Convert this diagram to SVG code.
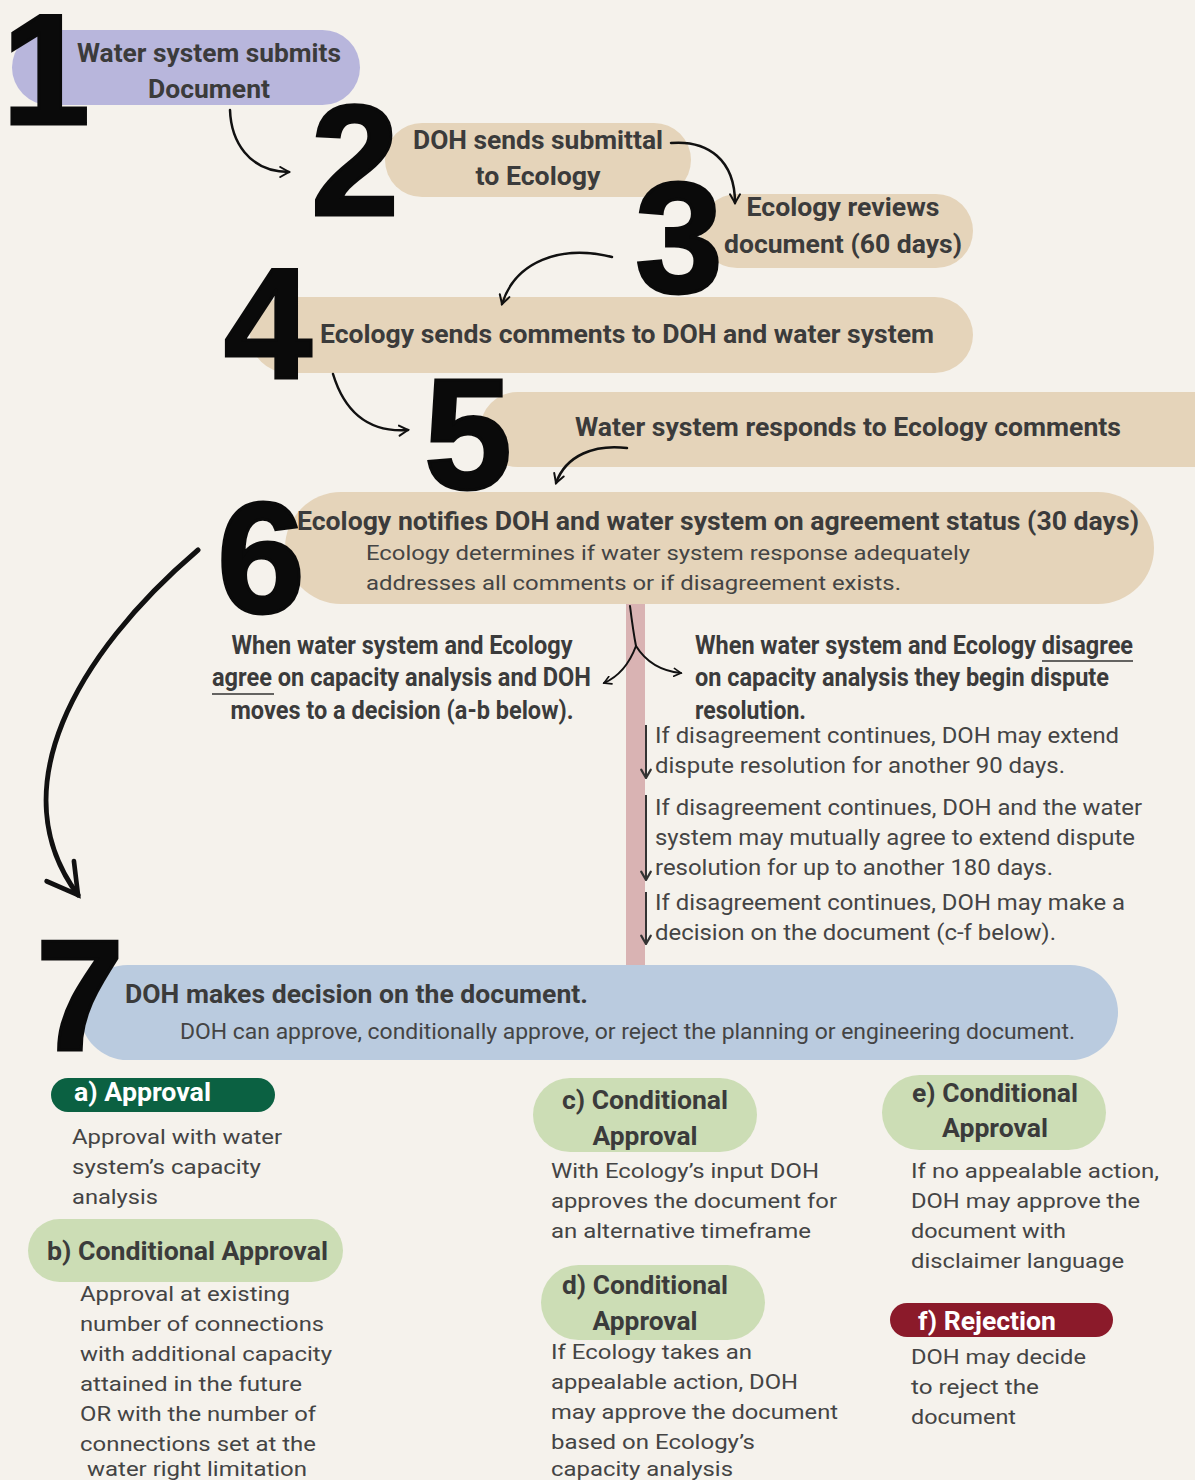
<svg xmlns="http://www.w3.org/2000/svg" width="1195" height="1480" viewBox="0 0 1195 1480">
<style>
.bg{fill:#F5F2EC}
.tan{fill:#E5D4BA}
.num{font-family:"Liberation Sans",Arial,sans-serif;font-weight:bold;font-size:158px;fill:#0a0a0a;stroke:#0a0a0a;stroke-width:3;text-anchor:middle}
.h{font-family:Roboto,"Liberation Sans",sans-serif;font-weight:bold;font-size:26px;fill:#3b3b3b}
.hc{text-anchor:middle}
.s{font-family:Roboto,"Liberation Sans",sans-serif;font-size:21px;fill:#444}
.d{font-family:Roboto,"Liberation Sans",sans-serif;font-size:22px;fill:#444}
.w{fill:#fff}
.con{fill:none;stroke:#111;stroke-width:2.5;stroke-linecap:round}
.thin{fill:none;stroke:#333;stroke-width:2}
.ul{stroke:#333;stroke-width:1.5}
</style>
<defs>
<marker id="ah" viewBox="0 0 10 10" refX="8" refY="5" markerWidth="5" markerHeight="5" orient="auto"><path d="M1,1 L8,5 L1,9" fill="none" stroke="#111" stroke-width="1.6" stroke-linecap="round"/></marker>
<marker id="ahb" viewBox="0 0 10 10" refX="8" refY="5" markerWidth="8.5" markerHeight="8.5" orient="auto"><path d="M1,1 L8,5 L1,9" fill="none" stroke="#111" stroke-width="1.1" stroke-linecap="round"/></marker>
<marker id="ahs" viewBox="0 0 10 10" refX="5" refY="9" markerWidth="6" markerHeight="6" orient="0"><path d="M1,2 L5,9 L9,2" fill="none" stroke="#333" stroke-width="1.8" stroke-linecap="round"/></marker>
</defs>
<rect class="bg" x="0" y="0" width="1195" height="1480"/>

<rect x="626" y="600" width="19" height="368" fill="#D9B3B3"/>

<g id="node1">
<rect x="12" y="30" width="348" height="75" rx="37.5" fill="#B8B6DC"/>
<text class="h hc" x="209" y="62" textLength="264" lengthAdjust="spacingAndGlyphs">Water system submits</text>
<text class="h hc" x="209" y="98" textLength="122" lengthAdjust="spacingAndGlyphs">Document</text>
<text class="num" x="46" y="124">1</text>
</g>

<g id="node2">
<rect x="385" y="123" width="306" height="74" rx="37" class="tan"/>
<text class="h hc" x="538" y="149" textLength="250" lengthAdjust="spacingAndGlyphs">DOH sends submittal</text>
<text class="h hc" x="538" y="185" textLength="125" lengthAdjust="spacingAndGlyphs">to Ecology</text>
<text class="num" x="355" y="215">2</text>
</g>

<g id="node3">
<rect x="700" y="194" width="273" height="74" rx="37" class="tan"/>
<text class="h hc" x="843" y="216" textLength="193" lengthAdjust="spacingAndGlyphs">Ecology reviews</text>
<text class="h hc" x="843" y="253" textLength="238" lengthAdjust="spacingAndGlyphs">document (60 days)</text>
<text class="num" x="679" y="292">3</text>
</g>

<g id="node4">
<rect x="250" y="297" width="723" height="76" rx="38" class="tan"/>
<text class="h" x="320" y="343" textLength="614" lengthAdjust="spacingAndGlyphs">Ecology sends comments to DOH and water system</text>
<text class="num" x="268" y="378">4</text>
</g>

<g id="node5">
<rect x="480" y="392" width="760" height="75" rx="37.5" class="tan"/>
<text class="h" x="575" y="436" textLength="546" lengthAdjust="spacingAndGlyphs">Water system responds to Ecology comments</text>
<text class="num" x="468" y="488">5</text>
</g>

<g id="node6">
<rect x="285" y="492" width="869" height="112" rx="56" class="tan"/>
<text class="h" x="297" y="530" textLength="842" lengthAdjust="spacingAndGlyphs">Ecology notifies DOH and water system on agreement status (30 days)</text>
<text class="s" x="366" y="560" textLength="604" lengthAdjust="spacingAndGlyphs">Ecology determines if water system response adequately</text>
<text class="s" x="366" y="590" textLength="535" lengthAdjust="spacingAndGlyphs">addresses all comments or if disagreement exists.</text>
<text class="num" x="261" y="612">6</text>
</g>

<g id="agree">
<text class="h hc" x="402" y="654" font-size="23" textLength="341" lengthAdjust="spacingAndGlyphs">When water system and Ecology</text>
<text class="h" x="212" y="686" font-size="23" textLength="379" lengthAdjust="spacingAndGlyphs">agree on capacity analysis and DOH</text>
<line class="ul" x1="212" y1="694" x2="274" y2="694"/>
<text class="h hc" x="402" y="719" font-size="23" textLength="343" lengthAdjust="spacingAndGlyphs">moves to a decision (a-b below).</text>
</g>

<g id="disagree">
<text class="h" x="695" y="654" font-size="23" textLength="438" lengthAdjust="spacingAndGlyphs">When water system and Ecology disagree</text>
<line class="ul" x1="1042" y1="661" x2="1133" y2="661"/>
<text class="h" x="695" y="686" font-size="23" textLength="414" lengthAdjust="spacingAndGlyphs">on capacity analysis they begin dispute</text>
<text class="h" x="695" y="719" font-size="23" textLength="111" lengthAdjust="spacingAndGlyphs">resolution.</text>
</g>

<g id="dispute1">
<text class="d" x="655" y="743" textLength="464" lengthAdjust="spacingAndGlyphs">If disagreement continues, DOH may extend</text>
<text class="d" x="655" y="773" textLength="410" lengthAdjust="spacingAndGlyphs">dispute resolution for another 90 days.</text>
</g>
<g id="dispute2">
<text class="d" x="655" y="815" textLength="487" lengthAdjust="spacingAndGlyphs">If disagreement continues, DOH and the water</text>
<text class="d" x="655" y="845" textLength="480" lengthAdjust="spacingAndGlyphs">system may mutually agree to extend dispute</text>
<text class="d" x="655" y="875" textLength="398" lengthAdjust="spacingAndGlyphs">resolution for up to another 180 days.</text>
</g>
<g id="dispute3">
<text class="d" x="655" y="910" textLength="470" lengthAdjust="spacingAndGlyphs">If disagreement continues, DOH may make a</text>
<text class="d" x="655" y="940" textLength="401" lengthAdjust="spacingAndGlyphs">decision on the document (c-f below).</text>
</g>

<g id="node7">
<rect x="80" y="965" width="1038" height="95" rx="47.5" fill="#BACBDF"/>
<text class="h" x="125" y="1003" font-size="25" textLength="463" lengthAdjust="spacingAndGlyphs">DOH makes decision on the document.</text>
<text class="d" x="180" y="1039" fill="#1e1e1e" textLength="895" lengthAdjust="spacingAndGlyphs">DOH can approve, conditionally approve, or reject the planning or engineering document.</text>
<text class="num" x="80" y="1050">7</text>
</g>

<g id="optionA">
<rect x="51" y="1078" width="224" height="34" rx="17" fill="#0B6142"/>
<text class="h w" x="74" y="1101" textLength="137" lengthAdjust="spacingAndGlyphs">a) Approval</text>
<text class="s" x="72" y="1144" textLength="210" lengthAdjust="spacingAndGlyphs">Approval with water</text>
<text class="s" x="72" y="1174" textLength="189" lengthAdjust="spacingAndGlyphs">system’s capacity</text>
<text class="s" x="72" y="1204" textLength="86" lengthAdjust="spacingAndGlyphs">analysis</text>
</g>

<g id="optionB">
<rect x="28" y="1219" width="315" height="63" rx="31.5" fill="#CCDDB5"/>
<text class="h" x="47" y="1260" textLength="281" lengthAdjust="spacingAndGlyphs">b) Conditional Approval</text>
<text class="s" x="80" y="1301" textLength="210" lengthAdjust="spacingAndGlyphs">Approval at existing</text>
<text class="s" x="80" y="1331" textLength="244" lengthAdjust="spacingAndGlyphs">number of connections</text>
<text class="s" x="80" y="1361" textLength="252" lengthAdjust="spacingAndGlyphs">with additional capacity</text>
<text class="s" x="80" y="1391" textLength="222" lengthAdjust="spacingAndGlyphs">attained in the future</text>
<text class="s" x="80" y="1421" textLength="236" lengthAdjust="spacingAndGlyphs">OR with the number of</text>
<text class="s" x="80" y="1451" textLength="236" lengthAdjust="spacingAndGlyphs">connections set at the</text>
<text class="s" x="87" y="1476" textLength="220" lengthAdjust="spacingAndGlyphs">water right limitation</text>
</g>

<g id="optionC">
<rect x="533" y="1078" width="224" height="74" rx="37" fill="#CCDDB5"/>
<text class="h hc" x="645" y="1109" textLength="166" lengthAdjust="spacingAndGlyphs">c) Conditional</text>
<text class="h hc" x="645" y="1145" textLength="105" lengthAdjust="spacingAndGlyphs">Approval</text>
<text class="s" x="551" y="1178" textLength="268" lengthAdjust="spacingAndGlyphs">With Ecology’s input DOH</text>
<text class="s" x="551" y="1208" textLength="286" lengthAdjust="spacingAndGlyphs">approves the document for</text>
<text class="s" x="551" y="1238" textLength="260" lengthAdjust="spacingAndGlyphs">an alternative timeframe</text>
</g>

<g id="optionD">
<rect x="541" y="1265" width="224" height="75" rx="37.5" fill="#CCDDB5"/>
<text class="h hc" x="645" y="1294" textLength="166" lengthAdjust="spacingAndGlyphs">d) Conditional</text>
<text class="h hc" x="645" y="1330" textLength="105" lengthAdjust="spacingAndGlyphs">Approval</text>
<text class="s" x="551" y="1359" textLength="201" lengthAdjust="spacingAndGlyphs">If Ecology takes an</text>
<text class="s" x="551" y="1389" textLength="247" lengthAdjust="spacingAndGlyphs">appealable action, DOH</text>
<text class="s" x="551" y="1419" textLength="287" lengthAdjust="spacingAndGlyphs">may approve the document</text>
<text class="s" x="551" y="1449" textLength="204" lengthAdjust="spacingAndGlyphs">based on Ecology’s</text>
<text class="s" x="551" y="1476" textLength="182" lengthAdjust="spacingAndGlyphs">capacity analysis</text>
</g>

<g id="optionE">
<rect x="882" y="1075" width="224" height="75" rx="37.5" fill="#CCDDB5"/>
<text class="h hc" x="995" y="1102" textLength="166" lengthAdjust="spacingAndGlyphs">e) Conditional</text>
<text class="h hc" x="995" y="1137" textLength="106" lengthAdjust="spacingAndGlyphs">Approval</text>
<text class="s" x="911" y="1178" textLength="248" lengthAdjust="spacingAndGlyphs">If no appealable action,</text>
<text class="s" x="911" y="1208" textLength="229" lengthAdjust="spacingAndGlyphs">DOH may approve the</text>
<text class="s" x="911" y="1238" textLength="155" lengthAdjust="spacingAndGlyphs">document with</text>
<text class="s" x="911" y="1268" textLength="213" lengthAdjust="spacingAndGlyphs">disclaimer language</text>
</g>

<g id="optionF">
<rect x="890" y="1303" width="223" height="34" rx="17" fill="#8B1A2A"/>
<text class="h w" x="918" y="1330" textLength="138" lengthAdjust="spacingAndGlyphs">f) Rejection</text>
<text class="s" x="911" y="1364" textLength="175" lengthAdjust="spacingAndGlyphs">DOH may decide</text>
<text class="s" x="911" y="1394" textLength="128" lengthAdjust="spacingAndGlyphs">to reject the</text>
<text class="s" x="911" y="1424" textLength="105" lengthAdjust="spacingAndGlyphs">document</text>
</g>

<g id="connectors">
<path class="con" d="M230,110 C231,140 248,172 289,172" marker-end="url(#ah)"/>
<path class="con" d="M671,143 C708,140 735,160 735,203" marker-end="url(#ah)"/>
<path class="con" d="M612,257 C560,244 515,262 502,304" marker-end="url(#ah)"/>
<path class="con" d="M333,374 C344,410 366,433 408,430" marker-end="url(#ah)"/>
<path class="con" d="M627,448 C595,444 566,455 556,483" marker-end="url(#ah)"/>
<path class="con" d="M198,550 C75,655 0,790 78,895" style="stroke-width:5" marker-end="url(#ahb)"/>
<path class="con" d="M630,606 C632,622 634,636 636,646" style="stroke-width:2"/>
<path class="con" d="M636,646 C630,662 620,676 604,683" style="stroke-width:2" marker-end="url(#ah)"/>
<path class="con" d="M636,646 C646,662 660,671 681,673" style="stroke-width:2" marker-end="url(#ah)"/>
<line class="thin" x1="646" y1="725" x2="646" y2="778" marker-end="url(#ahs)"/>
<line class="thin" x1="646" y1="795" x2="646" y2="880" marker-end="url(#ahs)"/>
<line class="thin" x1="646" y1="892" x2="646" y2="944" marker-end="url(#ahs)"/>
</g>
</svg>
